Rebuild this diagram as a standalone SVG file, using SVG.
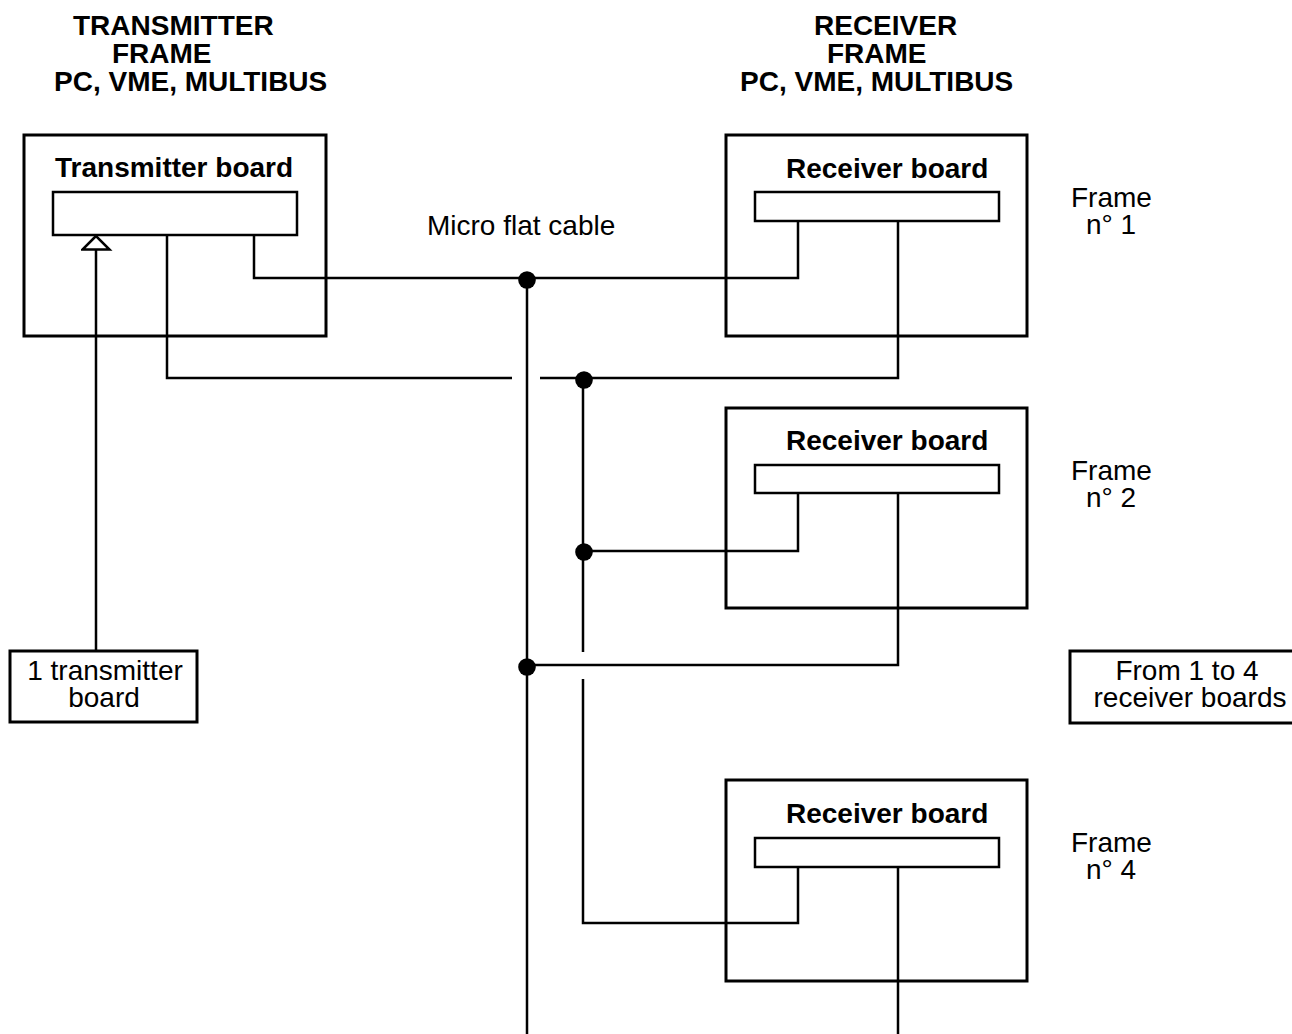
<svg xmlns="http://www.w3.org/2000/svg" width="1292" height="1034" viewBox="0 0 1292 1034">
<style>
  .box { fill: #fff; stroke: #000; stroke-width: 3; }
  .slot { fill: #fff; stroke: #000; stroke-width: 2.5; }
  .wire { fill: none; stroke: #000; stroke-width: 2.5; stroke-linejoin: miter; }
  .dot { fill: #000; }
  .t { font-family: "Liberation Sans", Arial, sans-serif; font-size: 28px; fill: #000; }
  .b { font-family: "Liberation Sans", Arial, sans-serif; font-size: 28px; font-weight: bold; fill: #000; }
  .mid { text-anchor: middle; }
</style>
<defs>
  <marker id="tri" markerWidth="32" markerHeight="18" refX="15" refY="2" orient="0" markerUnits="userSpaceOnUse" viewBox="0 0 32 18">
    <polygon points="15,2 1.5,15.5 28.5,15.5" fill="#fff" stroke="#000" stroke-width="2.5"/>
  </marker>
</defs>
<rect width="1292" height="1034" fill="#fff"/>

<g id="title-transmitter">
  <text class="b" x="73" y="35">TRANSMITTER</text>
  <text class="b" x="112" y="63">FRAME</text>
  <text class="b" x="54" y="91">PC, VME, MULTIBUS</text>
</g>
<g id="title-receiver">
  <text class="b" x="814" y="35">RECEIVER</text>
  <text class="b" x="827" y="63">FRAME</text>
  <text class="b" x="740" y="91">PC, VME, MULTIBUS</text>
</g>

<g id="transmitter-frame">
  <rect class="box" x="24" y="135" width="302" height="201"/>
  <text class="b" x="55" y="177">Transmitter board</text>
  <rect class="slot" x="53" y="192" width="244" height="43"/>
</g>

<g id="receiver-1">
  <rect class="box" x="726" y="135" width="301" height="201"/>
  <text class="b" x="786" y="178">Receiver board</text>
  <rect class="slot" x="755" y="192" width="244" height="29"/>
</g>
<g id="receiver-2">
  <rect class="box" x="726" y="408" width="301" height="200"/>
  <text class="b" x="786" y="450">Receiver board</text>
  <rect class="slot" x="755" y="465" width="244" height="28"/>
</g>
<g id="receiver-4">
  <rect class="box" x="726" y="780" width="301" height="201"/>
  <text class="b" x="786" y="823">Receiver board</text>
  <rect class="slot" x="755" y="838" width="244" height="29"/>
</g>

<g id="label-frame-1">
  <text class="t" x="1071" y="207">Frame</text>
  <text class="t" x="1086" y="234">n° 1</text>
</g>
<g id="label-frame-2">
  <text class="t" x="1071" y="480">Frame</text>
  <text class="t" x="1086" y="507">n° 2</text>
</g>
<g id="label-frame-4">
  <text class="t" x="1071" y="852">Frame</text>
  <text class="t" x="1086" y="879">n° 4</text>
</g>

<g id="label-cable">
  <text class="t" x="427" y="235">Micro flat cable</text>
</g>

<g id="transmitter-count">
  <rect class="box" x="10" y="651" width="187" height="71"/>
  <text class="t mid" x="105" y="680">1 transmitter</text>
  <text class="t mid" x="104" y="707">board</text>
</g>

<g id="receiver-count">
  <rect class="box" x="1070" y="651" width="240" height="72"/>
  <text class="t mid" x="1187" y="680">From 1 to 4</text>
  <text class="t mid" x="1190" y="707">receiver boards</text>
</g>

<g id="connectors">
  <line class="wire" x1="96" y1="651" x2="96" y2="236" marker-end="url(#tri)"/>
  <polyline class="wire" points="167,235 167,378 512,378"/>
  <polyline class="wire" points="540,378 898,378 898,221"/>
  <polyline class="wire" points="254,235 254,278 798,278 798,221"/>
  <line class="wire" x1="527" y1="278" x2="527" y2="1034"/>
  <polyline class="wire" points="583,378 583,652"/>
  <polyline class="wire" points="583,679 583,923 798,923 798,867"/>
  <polyline class="wire" points="798,493 798,551 583,551"/>
  <polyline class="wire" points="898,493 898,665 527,665"/>
  <line class="wire" x1="898" y1="867" x2="898" y2="1034"/>
  <circle class="dot" cx="527" cy="280" r="8.8"/>
  <circle class="dot" cx="584" cy="380" r="8.8"/>
  <circle class="dot" cx="584" cy="552" r="8.8"/>
  <circle class="dot" cx="527" cy="667" r="8.8"/>
</g>
</svg>
